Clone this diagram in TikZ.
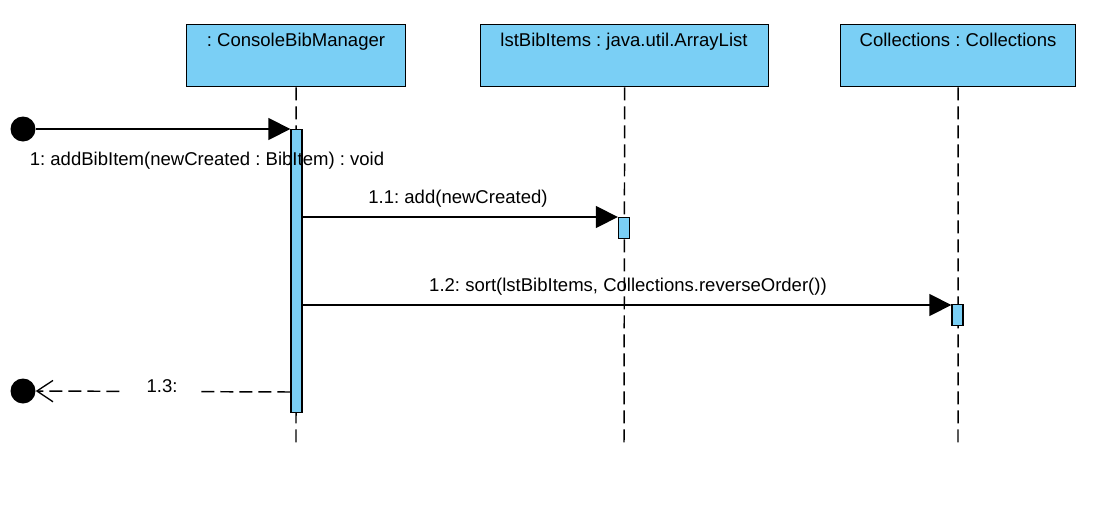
\documentclass[tikz,border=0pt]{standalone}
\usepackage{fontspec}
\setmainfont{Liberation Sans}
\usetikzlibrary{arrows.meta}
\definecolor{vpblue}{RGB}{122,207,245}
\frenchspacing
\begin{document}
\begin{tikzpicture}[x=0.75pt,y=-0.75pt,
  obj/.style={draw=black,fill=vpblue,line width=1pt,minimum width=#1*0.75pt,minimum height=62*0.75pt,inner sep=0pt},
  lbl/.style={font=\fontsize{13.9}{15}\selectfont,inner sep=1pt,anchor=base},
  life/.style={line width=1.1pt,dash pattern=on 9.75pt off 4.5pt},
  act/.style={draw=black,fill=vpblue,line width=1pt,minimum width=11*0.75pt,inner sep=0pt},
  dot/.style={circle,fill=black,minimum size=25*0.75pt,inner sep=0pt},
  call/.style={line width=1.1pt,-{Triangle[length=16.5pt,width=16.5pt]}},
  ret/.style={line width=1.1pt,dash pattern=on 9.75pt off 4.5pt,-{Straight Barb[length=12pt,width=16pt,line width=1pt]}}]
\useasboundingbox (0,0) rectangle (1104,504);
% objects
\node[obj=219,anchor=north west] (o1) at (186,24) {};
\node[lbl] at (296,46) {: ConsoleBibManager};
\node[obj=288,anchor=north west] (o2) at (480,24) {};
\node[lbl] at (624,46) {lstBibItems : java.util.ArrayList};
\node[obj=235,anchor=north west] (o3) at (840,24) {};
\node[lbl] at (958,46) {Collections : Collections};
% lifelines
\coordinate (e1) at (296,446);
\coordinate (e2) at (624,446);
\coordinate (e3) at (958,446);
\draw[life] (o1.south) -- (e1);
\draw[life] (o2.south) -- (e2);
\draw[life] (o3.south) -- (e3);
% activations
\node[act,minimum height=283*0.75pt,anchor=north] (a1) at (296.5,129) {};
\node[act,minimum height=21*0.75pt,anchor=north] (a2) at (624,217) {};
\node[act,minimum height=21*0.75pt,anchor=north] (a3) at (957.5,304) {};
% found message
\node[dot] (d1) at (23,129) {};
\node[dot] (d2) at (23,391) {};
\draw[call] (d1.east) -- (a1.north west);
\node[lbl] at (207,165) {1: addBibItem(newCreated : BibItem) : void};
% calls
\coordinate (s11) at (a1.east |- 0,217);
\draw[call] (s11) -- (a2.north west);
\node[lbl] at (458,203) {1.1: add(newCreated)};
\coordinate (s12) at (a1.east |- 0,305);
\draw[call] (s12) -- (a3.west |- 0,305);
\node[lbl] at (628,291) {1.2: sort(lstBibItems, Collections.reverseOrder())};
% return
\coordinate (s13) at (a1.west |- 0,392);
\draw[ret] (s13) -- (d2.east);
\fill[white] (125,380) rectangle (200,400);
\node[lbl] (r13) at (162,392) {1.3:};
\end{tikzpicture}
\end{document}
